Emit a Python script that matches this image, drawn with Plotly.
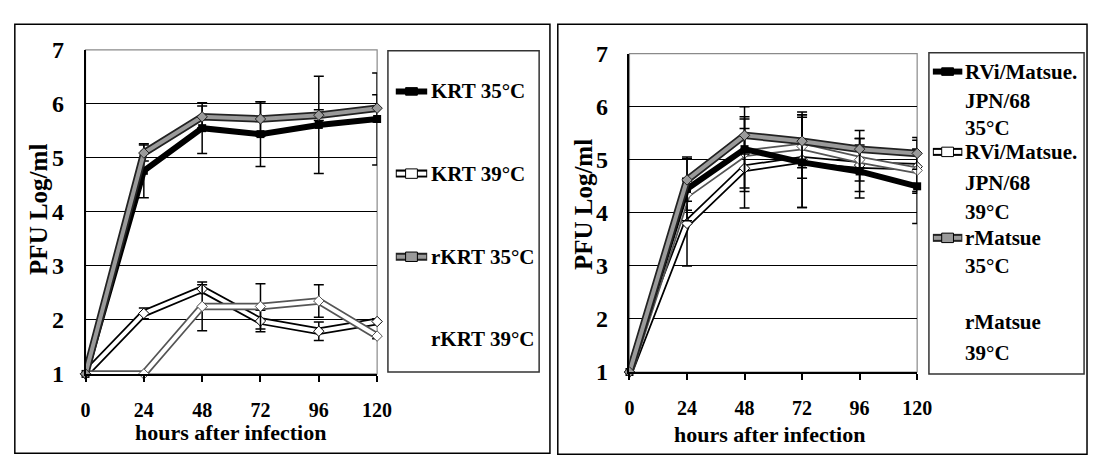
import plotly.graph_objects as go

W, H = 1103, 471

# ---------------- data ----------------
hours = [0, 24, 48, 72, 96, 120]
y_ticks = [1, 2, 3, 4, 5, 6, 7]

# left panel (KRT)
krt35 = [1.0, 4.76, 5.55, 5.44, 5.61, 5.72]
krt35_err = [0, 0.50, 0.47, 0.60, 0.90, 0.85]
krt39 = [1.0, 2.12, 2.57, 1.98, 1.79, 1.97]
krt39_err = [0, 0.10, 0.08, 0.20, 0.17, 0.05]
rkrt35 = [1.0, 5.09, 5.76, 5.72, 5.79, 5.92]
rkrt35_err = [0, 0.15, 0.20, 0.32, 0.10, 0.25]
rkrt39 = [1.0, 1.0, 2.25, 2.25, 2.35, 1.70]
rkrt39_err = [0, 0, 0.45, 0.42, 0.30, 0.05]

# right panel (Matsue)
rvi35 = [1.0, 4.45, 5.20, 4.95, 4.78, 4.50]
rvi35_err = [0, 0.60, 0.80, 0.85, 0.50, 0.70]
rvi39 = [1.0, 3.80, 4.84, 5.00, 4.90, 4.87]
rvi39_err = [0, 0.80, 0.75, 0.90, 0.50, 0.50]
rm35 = [1.0, 4.62, 5.46, 5.35, 5.20, 5.12]
rm35_err = [0, 0.40, 0.35, 0.50, 0.35, 0.30]
rm39 = [1.0, 4.35, 5.12, 5.25, 5.00, 4.80]
rm39_err = [0, 0.30, 0.65, 0.60, 0.40, 0.40]

left_names = ["KRT 35°C", "KRT 39°C", "rKRT 35°C", "rKRT 39°C"]
right_names = [["RVi/Matsue.", "JPN/68", "35°C"],
               ["RVi/Matsue.", "JPN/68", "39°C"],
               ["rMatsue", "35°C"],
               ["rMatsue", "39°C"]]

FONT = "Liberation Serif"
GRAY = "#9a9a9a"


def px(x):
    return x / W


def py(y):
    return 1 - y / H


fig = go.Figure()


def add_series(y, err, style, xa, ya, name):
    eb = dict(type="data", array=err, color="black", thickness=1.5, width=5)
    if style == "black":
        fig.add_trace(go.Scatter(
            x=hours, y=y, name=name, mode="lines+markers", xaxis=xa, yaxis=ya,
            line=dict(color="black", width=6),
            marker=dict(symbol="square", size=8, color="black"),
            error_y=eb, cliponaxis=False, showlegend=False))
        return
    if style == "white":
        outline, core, mcol = "black", "white", "white"
    elif style == "gray":
        outline, core, mcol = "#222222", GRAY, GRAY
    else:  # faint white
        outline, core, mcol = "#555555", "white", "white"
    fig.add_trace(go.Scatter(
        x=hours, y=y, name=name, mode="lines", xaxis=xa, yaxis=ya,
        line=dict(color=outline, width=7.5), error_y=eb,
        cliponaxis=False, showlegend=False, hoverinfo="skip"))
    fig.add_trace(go.Scatter(
        x=hours, y=y, name=name, mode="lines+markers", xaxis=xa, yaxis=ya,
        line=dict(color=core, width=4),
        marker=dict(symbol="diamond", size=8, color=mcol,
                    line=dict(color=outline, width=1)),
        cliponaxis=False, showlegend=False))


# left panel
add_series(krt39, krt39_err, "white", "x", "y", left_names[1])
add_series(rkrt39, rkrt39_err, "faint", "x", "y", left_names[3])
add_series(krt35, krt35_err, "black", "x", "y", left_names[0])
add_series(rkrt35, rkrt35_err, "gray", "x", "y", left_names[2])

# right panel
add_series(rvi39, rvi39_err, "white", "x2", "y2", "RVi/Matsue.JPN/68 39°C")
add_series(rm39, rm39_err, "faint", "x2", "y2", "rMatsue 39°C")
add_series(rvi35, rvi35_err, "black", "x2", "y2", "RVi/Matsue.JPN/68 35°C")
add_series(rm35, rm35_err, "gray", "x2", "y2", "rMatsue 35°C")

xtickfont = dict(family=FONT, size=20, color="black", weight="bold")
ytickfont = dict(family=FONT, size=24, color="black", weight="bold")

xcommon = dict(range=[0, 120], tickmode="array", tickvals=hours,
               ticks="outside", ticklen=6, tickwidth=1.5, tickcolor="black",
               showline=True, linecolor="black", linewidth=1.5,
               showgrid=False, zeroline=False, tickfont=xtickfont,
               ticklabelstandoff=11, fixedrange=True)
ycommon = dict(range=[1, 7], tickmode="array", tickvals=y_ticks,
               showline=True, linecolor="black", linewidth=1.5,
               showgrid=True, gridcolor="black", gridwidth=1,
               zeroline=False, ticks="", tickfont=ytickfont,
               ticklabelstandoff=15, fixedrange=True)

fig.update_layout(
    width=W, height=H,
    margin=dict(l=0, r=0, t=0, b=0),
    paper_bgcolor="white", plot_bgcolor="white",
    showlegend=False,
    xaxis=dict(domain=[px(82), px(379)], anchor="y", **xcommon),
    yaxis=dict(domain=[py(382), py(39)], anchor="x", **ycommon),
    xaxis2=dict(domain=[px(636), px(929)], anchor="y2", **xcommon),
    yaxis2=dict(domain=[py(380), py(43)], anchor="x2", **ycommon),
)

shapes = []
# plot area borders (gray)
for xr, yr in (("x domain", "y domain"), ("x2 domain", "y2 domain")):
    shapes.append(dict(type="rect", xref=xr, yref=yr, x0=0, x1=1, y0=0, y1=1,
                       line=dict(color="#8a8a8a", width=1.2), layer="below"))
# panel frames
shapes.append(dict(type="rect", xref="paper", yref="paper",
                   x0=px(10), x1=px(555), y0=py(466), y1=py(12),
                   line=dict(color="black", width=1.5)))
shapes.append(dict(type="rect", xref="paper", yref="paper",
                   x0=px(563), x1=px(1102), y0=py(467), y1=py(12),
                   line=dict(color="black", width=1.5)))
# legend boxes
shapes.append(dict(type="rect", xref="paper", yref="paper",
                   x0=px(390), x1=px(544), y0=py(380), y1=py(40),
                   line=dict(color="#333333", width=1.5)))
shapes.append(dict(type="rect", xref="paper", yref="paper",
                   x0=px(941), x1=px(1099), y0=py(382), y1=py(42),
                   line=dict(color="#333333", width=1.5)))


def line_shape(x0, x1, y, color, width):
    return dict(type="line", xref="paper", yref="paper",
                x0=px(x0), x1=px(x1), y0=py(y), y1=py(y),
                line=dict(color=color, width=width))


def rect_shape(cx, cy, hw, hh, fill, edge):
    return dict(type="rect", xref="paper", yref="paper",
                x0=px(cx - hw), x1=px(cx + hw), y0=py(cy + hh), y1=py(cy - hh),
                fillcolor=fill, line=dict(color=edge, width=1))


def legend_symbol(x0, x1, y, style):
    cx = (x0 + x1) / 2
    out = []
    if style == "black":
        out.append(line_shape(x0, x1, y, "black", 6))
        out.append(rect_shape(cx, y, 6, 4, "black", "black"))
    elif style == "white":
        out.append(line_shape(x0, x1, y, "black", 8))
        out.append(line_shape(x0 + 1, x1 - 1, y, "white", 4))
        out.append(rect_shape(cx, y, 6, 5, "white", "black"))
    elif style == "gray":
        out.append(line_shape(x0, x1, y, "#222222", 8))
        out.append(line_shape(x0 + 1, x1 - 1, y, GRAY, 4))
        out.append(rect_shape(cx, y, 6, 5, GRAY, "black"))
    return out


left_styles = ["black", "white", "gray", "faint"]
left_y = [83, 170, 258, 345]
for st, yy in zip(left_styles, left_y):
    shapes += legend_symbol(398, 430, yy, st)

right_styles = ["black", "white", "gray", "faint"]
right_y = [[62, 93, 122], [147, 180, 211], [238, 268], [327, 360]]
for st, ys in zip(right_styles, right_y):
    shapes += legend_symbol(945, 975, ys[0], st)

fig.update_layout(shapes=shapes)

annotations = []
lfont = dict(family=FONT, size=21, color="black", weight="bold")
for name, yy in zip(left_names, left_y):
    annotations.append(dict(text=name, xref="paper", yref="paper",
                            x=px(432), y=py(yy), xanchor="left", yanchor="middle",
                            showarrow=False, font=lfont))
for lines, ys in zip(right_names, right_y):
    for t, yy in zip(lines, ys):
        annotations.append(dict(text=t, xref="paper", yref="paper",
                                x=px(976), y=py(yy), xanchor="left", yanchor="middle",
                                showarrow=False, font=lfont))

tfont = dict(family=FONT, size=22, color="black", weight="bold")
yfont = dict(family=FONT, size=25, color="black", weight="bold")
annotations.append(dict(text="hours after infection", xref="paper", yref="paper",
                        x=px(230), y=py(444), xanchor="center", yanchor="middle",
                        showarrow=False, font=tfont))
annotations.append(dict(text="hours after infection", xref="paper", yref="paper",
                        x=px(779), y=py(446), xanchor="center", yanchor="middle",
                        showarrow=False, font=tfont))
annotations.append(dict(text="PFU Log/ml", xref="paper", yref="paper",
                        x=px(34), y=py(208), xanchor="center", yanchor="middle",
                        textangle=-90, showarrow=False, font=yfont))
annotations.append(dict(text="PFU Log/ml", xref="paper", yref="paper",
                        x=px(589), y=py(203), xanchor="center", yanchor="middle",
                        textangle=-90, showarrow=False, font=yfont))
fig.update_layout(annotations=annotations)

fig.write_html("out.html")
